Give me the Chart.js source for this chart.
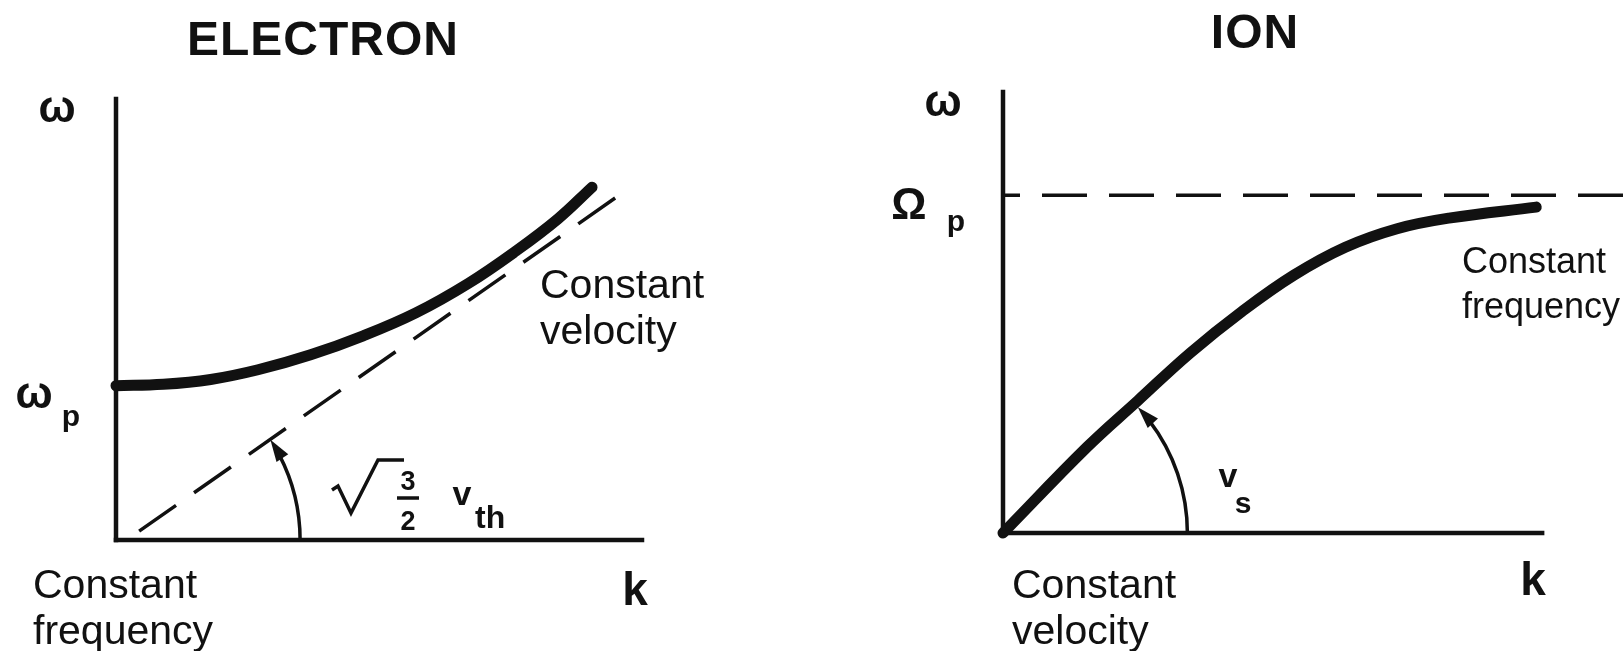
<!DOCTYPE html>
<html>
<head>
<meta charset="utf-8">
<title>Electron and ion waves</title>
<script src="https://cdn.jsdelivr.net/npm/chart.js@4.4.1/dist/chart.umd.min.js"></script>
<style>
    body { margin: 0; background: #fff; width: 1623px; height: 651px; overflow: hidden; position: relative; }
    canvas { display: block; }
    #electronWrap { position: absolute; left: 0; top: 0; }
    #ionWrap { position: absolute; left: 811px; top: 0; }
</style>
</head>
<body>
<div id="electronWrap"><canvas id="electronChart" width="811" height="651"></canvas></div>
<div id="ionWrap"><canvas id="ionChart" width="812" height="651"></canvas></div>
<script>
// values, k and omega in arbitrary units (axes run 0..10)
var axisK = [0, 10];
var axisW = [0, 10];

// electron plasma wave, starts at omega_p
var electronK = [0, 0.9, 1.8, 2.7, 3.7, 4.7, 5.7, 6.7, 7.6, 8.4, 9.05];
var electronW = [3.5, 3.53, 3.64, 3.86, 4.2, 4.63, 5.15, 5.82, 6.55, 7.28, 8.0];
// dashed asymptote  sqrt(3/2) v_th
var electronAsymK = [0.44, 9.52];
var electronAsymW = [0.2, 7.78];

// ion acoustic wave, levels off under Omega_p
var ionK = [0, 1.56, 2.5, 3.47, 4.43, 5.4, 6.35, 7.31, 8.27, 9.89];
var ionW = [0, 1.95, 3.0, 4.08, 5.02, 5.85, 6.48, 6.9, 7.14, 7.39];
// dashed Omega_p level
var ionPlasmaK = [0, 11.5];
var ionPlasmaW = [7.66, 7.66];

var ink = "#111";

function toPoints(xs, ys) {
    var pts = [];
    for (var i = 0; i < xs.length; i++) {
        pts.push({x: xs[i], y: ys[i]});
    }
    return pts;
}

function axisSets() {
    return [
        {data: toPoints(axisK, [0, 0]), borderWidth: 4.5, borderCapStyle: 'square'},
        {data: toPoints([0, 0], axisW), borderWidth: 4.5, borderCapStyle: 'square'}
    ];
}

function drawText(ctx, str, x, y, font, align) {
    ctx.font = font;
    ctx.textAlign = align || 'left';
    ctx.textBaseline = 'alphabetic';
    ctx.fillText(str, x, y);
}

// curved arrow round the origin, from the k axis up to angle endDeg
function drawArcArrow(chart, radiusK, endDeg) {
    var ctx = chart.ctx;
    var xs = chart.scales.x;
    var ys = chart.scales.y;
    var cx = xs.getPixelForValue(0);
    var cy = ys.getPixelForValue(0);
    var r = xs.getPixelForValue(radiusK) - cx;
    var end = -endDeg * Math.PI / 180;
    var headLen = 22, headW = 7;

    ctx.save();
    ctx.strokeStyle = ink;
    ctx.fillStyle = ink;
    ctx.lineWidth = 3.5;
    ctx.beginPath();
    ctx.arc(cx, cy, r, 0, end + headLen / r * 0.8, true);
    ctx.stroke();

    var tx = cx + r * Math.cos(end);
    var ty = cy + r * Math.sin(end);
    var dx = Math.sin(end), dy = -Math.cos(end);
    var bx = tx - dx * headLen, by = ty - dy * headLen;
    ctx.beginPath();
    ctx.moveTo(tx, ty);
    ctx.lineTo(bx - dy * headW, by + dx * headW);
    ctx.lineTo(bx + dy * headW, by - dx * headW);
    ctx.closePath();
    ctx.fill();
    ctx.restore();
}

var electronLabels = {
    id: 'electronLabels',
    afterDraw: function(chart) {
        var ctx = chart.ctx;
        ctx.save();
        ctx.fillStyle = ink;
        ctx.letterSpacing = '1px';
        drawText(ctx, "ELECTRON", 323, 55, "bold 48px 'Liberation Sans'", 'center');
        ctx.letterSpacing = '0px';
        drawText(ctx, "\u03c9", 57, 122, "bold 44px 'Liberation Sans'", 'center');
        drawText(ctx, "\u03c9", 34, 408, "bold 44px 'Liberation Sans'", 'center');
        drawText(ctx, "p", 71, 426, "bold 30px 'Liberation Sans'", 'center');
        drawText(ctx, "k", 635, 605, "bold 46px 'Liberation Sans'", 'center');

        drawText(ctx, "Constant", 540, 298, "41px 'Liberation Sans'");
        drawText(ctx, "velocity", 540, 344, "41px 'Liberation Sans'");
        drawText(ctx, "Constant", 33, 598, "41px 'Liberation Sans'");
        drawText(ctx, "frequency", 33, 644, "41px 'Liberation Sans'");

        // sqrt(3/2) v_th
        ctx.strokeStyle = ink;
        ctx.lineWidth = 3.5;
        ctx.lineJoin = 'miter';
        ctx.beginPath();
        ctx.moveTo(332, 490);
        ctx.lineTo(338, 486);
        ctx.lineTo(351, 513);
        ctx.lineTo(378, 460);
        ctx.lineTo(404, 460);
        ctx.stroke();
        drawText(ctx, "3", 408, 490, "bold 27px 'Liberation Sans'", 'center');
        ctx.beginPath();
        ctx.moveTo(397, 498);
        ctx.lineTo(419, 498);
        ctx.stroke();
        drawText(ctx, "2", 408, 530, "bold 27px 'Liberation Sans'", 'center');
        drawText(ctx, "v", 462, 505, "bold 34px 'Liberation Sans'", 'center');
        drawText(ctx, "th", 475, 528, "bold 32px 'Liberation Sans'");
        ctx.restore();

        drawArcArrow(chart, 3.5, 33);
    }
};

var ionLabels = {
    id: 'ionLabels',
    afterDraw: function(chart) {
        var ctx = chart.ctx;
        ctx.save();
        ctx.fillStyle = ink;
        ctx.letterSpacing = '1px';
        drawText(ctx, "ION", 444, 48, "bold 48px 'Liberation Sans'", 'center');
        ctx.letterSpacing = '0px';
        drawText(ctx, "\u03c9", 132, 116, "bold 44px 'Liberation Sans'", 'center');
        drawText(ctx, "\u03a9", 98, 219, "bold 44px 'Liberation Sans'", 'center');
        drawText(ctx, "p", 145, 231, "bold 30px 'Liberation Sans'", 'center');
        drawText(ctx, "k", 722, 595, "bold 46px 'Liberation Sans'", 'center');

        drawText(ctx, "Constant", 651, 273, "36px 'Liberation Sans'");
        drawText(ctx, "frequency", 651, 318, "36px 'Liberation Sans'");
        drawText(ctx, "Constant", 201, 598, "41px 'Liberation Sans'");
        drawText(ctx, "velocity", 201, 644, "41px 'Liberation Sans'");

        drawText(ctx, "v", 417, 487, "bold 34px 'Liberation Sans'", 'center');
        drawText(ctx, "s", 432, 513, "bold 30px 'Liberation Sans'", 'center');
        ctx.restore();

        drawArcArrow(chart, 3.42, 43);
    }
};

function baseOptions(pad) {
    return {
        responsive: false,
        animation: false,
        layout: {padding: pad},
        elements: {
            point: {radius: 0},
            line: {borderColor: ink, fill: false}
        },
        scales: {
            x: {type: 'linear', min: 0, max: 10, display: false},
            y: {type: 'linear', min: 0, max: 10, display: false}
        },
        plugins: {
            legend: {display: false},
            tooltip: {enabled: false},
            title: {display: false}
        }
    };
}

// electron panel
var electronSets = axisSets();
electronSets.push({
    data: toPoints(electronAsymK, electronAsymW),
    borderWidth: 3.5,
    borderDash: [45, 22]
});
electronSets.push({
    data: toPoints(electronK, electronW),
    borderWidth: 11,
    borderCapStyle: 'round',
    borderJoinStyle: 'round',
    tension: 0.4
});
electronSets.forEach(function(d) { d.clip = false; d.borderColor = ink; });

var electronChart = new Chart(document.getElementById('electronChart'), {
    type: 'line',
    data: {datasets: electronSets},
    options: baseOptions({left: 116, top: 99, right: 169, bottom: 111}),
    plugins: [electronLabels]
});

// ion panel
var ionSets = axisSets();
ionSets.push({
    data: toPoints(ionPlasmaK, ionPlasmaW),
    borderWidth: 3.5,
    borderDash: [45, 22],
    borderDashOffset: 28
});
ionSets.push({
    data: toPoints(ionK, ionW),
    borderWidth: 11,
    borderCapStyle: 'round',
    borderJoinStyle: 'round',
    tension: 0.4
});
ionSets.forEach(function(d) { d.clip = false; d.borderColor = ink; });

var ionOpts = baseOptions({left: 192, top: 92, right: 0, bottom: 118});
ionOpts.scales.x.max = 11.5;
var ionChart = new Chart(document.getElementById('ionChart'), {
    type: 'line',
    data: {datasets: ionSets},
    options: ionOpts,
    plugins: [ionLabels]
});
</script>
</body>
</html>
